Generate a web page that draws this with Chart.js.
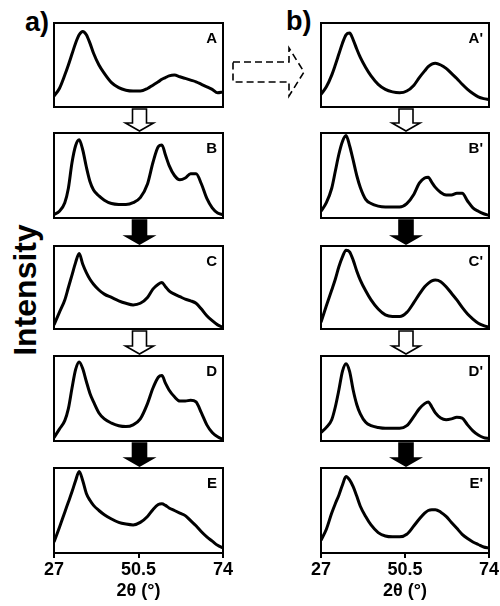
<!DOCTYPE html>
<html>
<head>
<meta charset="utf-8">
<script src="https://cdn.jsdelivr.net/npm/chart.js@4.4.1/dist/chart.umd.min.js"></script>
<style>
  body { margin: 0; background: #fff; }
  #wrap { position: relative; width: 500px; height: 606px; overflow: hidden; font-family: "Liberation Sans", Arial, sans-serif; }
  #wrap canvas { position: absolute; }
  .tag { position: absolute; font-weight: bold; font-size: 27px; line-height: 1; color: #000; }
  #ylab { position: absolute; left: 25px; top: 290px; font-weight: bold; font-size: 32px; line-height: 1;
          transform: translate(-50%, -50%) rotate(-90deg); white-space: nowrap; }
  svg { position: absolute; left: 0; top: 0; }
</style>
</head>
<body>
<div id="wrap">
  <div class="tag" style="left:25px;top:9px">a)</div>
  <div class="tag" style="left:286px;top:8px">b)</div>
  <div id="ylab">Intensity</div>
  <svg width="500" height="606" id="arrows"></svg>
</div>
<script>
// 2-theta sampling (deg)
const TWO_THETA = [27, 28.5, 30, 31, 32, 33, 34, 35, 36, 37, 38, 39.5, 41, 43, 45, 47, 49, 51, 53, 54.5, 56, 57, 58, 59, 60.5, 62, 63.5, 65, 66.5, 68, 69.5, 71, 72.5, 74];
const X_TICKS = [27, 50.5, 74];

// normalised intensities, column a)
const A = [0.13,0.22,0.38,0.50,0.63,0.76,0.86,0.90,0.86,0.76,0.64,0.50,0.40,0.29,0.23,0.20,0.19,0.19,0.22,0.26,0.30,0.33,0.35,0.37,0.38,0.36,0.34,0.32,0.30,0.27,0.24,0.21,0.17,0.18];
const B = [0.04,0.08,0.18,0.35,0.65,0.85,0.92,0.80,0.60,0.43,0.33,0.26,0.21,0.17,0.16,0.16,0.18,0.24,0.40,0.65,0.84,0.86,0.74,0.62,0.50,0.45,0.47,0.52,0.52,0.40,0.23,0.12,0.06,0.04];
const C = [0.05,0.20,0.35,0.50,0.65,0.80,0.91,0.78,0.68,0.60,0.54,0.47,0.42,0.38,0.34,0.31,0.29,0.31,0.38,0.48,0.54,0.56,0.51,0.46,0.42,0.39,0.36,0.34,0.31,0.24,0.16,0.10,0.05,0.02];
const D = [0.04,0.14,0.24,0.38,0.62,0.84,0.93,0.85,0.70,0.56,0.46,0.33,0.26,0.21,0.18,0.17,0.19,0.26,0.44,0.62,0.75,0.77,0.68,0.60,0.52,0.47,0.47,0.48,0.46,0.33,0.19,0.10,0.05,0.02];
const E = [0.13,0.30,0.48,0.60,0.72,0.85,0.96,0.85,0.70,0.62,0.56,0.50,0.45,0.40,0.36,0.34,0.33,0.36,0.43,0.51,0.57,0.58,0.56,0.53,0.50,0.47,0.44,0.38,0.32,0.25,0.19,0.14,0.09,0.06];

// column b)
const A2 = [0.15,0.24,0.38,0.50,0.63,0.76,0.86,0.88,0.80,0.69,0.59,0.47,0.37,0.27,0.21,0.18,0.17,0.19,0.26,0.35,0.43,0.48,0.51,0.52,0.50,0.46,0.40,0.34,0.27,0.21,0.16,0.12,0.10,0.09];
const B2 = [0.08,0.18,0.35,0.55,0.75,0.90,0.97,0.85,0.68,0.50,0.36,0.22,0.17,0.14,0.13,0.13,0.13,0.17,0.28,0.41,0.47,0.48,0.42,0.36,0.30,0.27,0.27,0.29,0.29,0.20,0.12,0.08,0.05,0.03];
const C2 = [0.08,0.28,0.47,0.60,0.75,0.87,0.95,0.93,0.83,0.70,0.59,0.46,0.35,0.24,0.17,0.15,0.15,0.20,0.32,0.42,0.51,0.55,0.58,0.59,0.57,0.51,0.43,0.35,0.26,0.18,0.12,0.07,0.04,0.02];
const D2 = [0.10,0.16,0.25,0.40,0.60,0.82,0.91,0.82,0.60,0.43,0.32,0.22,0.18,0.16,0.15,0.15,0.15,0.18,0.29,0.38,0.44,0.46,0.40,0.33,0.27,0.25,0.26,0.28,0.27,0.19,0.12,0.07,0.04,0.03];
const E2 = [0.15,0.28,0.47,0.58,0.68,0.80,0.90,0.86,0.78,0.67,0.55,0.43,0.33,0.24,0.20,0.19,0.19,0.22,0.32,0.40,0.47,0.50,0.51,0.51,0.48,0.43,0.36,0.29,0.22,0.17,0.13,0.10,0.07,0.06];

const LABELS_A = ['A', 'B', 'C', 'D', 'E'];
const LABELS_B = ["A'", "B'", "C'", "D'", "E'"];

const FONT = '"Liberation Sans", Arial, sans-serif';
const P = 16; // canvas padding round each frame
const cols = [{ x: 54, w: 169, series: [A, B, C, D, E], labels: LABELS_A },
              { x: 321, w: 168, series: [A2, B2, C2, D2, E2], labels: LABELS_B }];
const rows = [{ y: 23, h: 84 }, { y: 133, h: 85 }, { y: 246, h: 83 }, { y: 356, h: 85 }, { y: 468, h: 85 }];
const AXIS_H = 50;

// frame + panel letter
const framePlugin = {
  id: 'frame',
  afterDraw(chart, args, opts) {
    const { ctx, chartArea: a } = chart;
    ctx.save();
    ctx.strokeStyle = '#000';
    ctx.lineWidth = 2;
    ctx.strokeRect(a.left, a.top, a.right - a.left, a.bottom - a.top);
    ctx.fillStyle = '#000';
    ctx.font = 'bold 15px ' + FONT;
    ctx.textAlign = 'right';
    ctx.textBaseline = 'top';
    ctx.fillText(opts.text, a.right - 6, a.top + 8);
    ctx.restore();
  }
};

const wrap = document.getElementById('wrap');

cols.forEach(col => {
  rows.forEach((row, r) => {
    const last = r === rows.length - 1;
    const cv = document.createElement('canvas');
    cv.width = col.w + 2 * P;
    cv.height = row.h + P + (last ? AXIS_H : P);
    cv.style.left = (col.x - P) + 'px';
    cv.style.top = (row.y - P) + 'px';
    wrap.insertBefore(cv, document.getElementById('arrows'));
    const vals = col.series[r];
    new Chart(cv, {
      type: 'line',
      data: {
        datasets: [{
          data: TWO_THETA.map((t, i) => ({ x: t, y: vals[i] })),
          borderColor: '#000',
          borderWidth: 3,
          pointRadius: 0,
          cubicInterpolationMode: 'monotone',
          fill: false
        }]
      },
      options: {
        responsive: false,
        animation: false,
        layout: { padding: { left: P, right: P, top: P, bottom: last ? 0 : P } },
        plugins: { legend: { display: false }, tooltip: { enabled: false }, frame: { text: col.labels[r] } },
        scales: {
          x: {
            type: 'linear', min: 27, max: 74,
            display: last,
            afterBuildTicks: s => { s.ticks = X_TICKS.map(v => ({ value: v })); },
            afterFit: s => { if (last) s.height = AXIS_H; },
            grid: { drawOnChartArea: false, color: '#000', lineWidth: 2, tickLength: 5 },
            border: { color: '#000', width: 2 },
            ticks: { color: '#000', font: { family: FONT, size: 18, weight: 'bold' }, padding: 1,
                     maxRotation: 0, autoSkip: false, callback: v => String(v) },
            title: { display: true, text: '2θ (°)', color: '#000',
                     font: { family: FONT, size: 18, weight: 'bold' }, padding: { top: 0, bottom: 1 } }
          },
          y: { min: 0, max: 1, display: false }
        }
      },
      plugins: [framePlugin]
    });
  });
});

// process arrows between frames
const svg = document.getElementById('arrows');
const NS = 'http://www.w3.org/2000/svg';
function poly(pts, fill, dash) {
  const p = document.createElementNS(NS, 'polygon');
  p.setAttribute('points', pts.map(q => q.join(',')).join(' '));
  p.setAttribute('fill', fill);
  p.setAttribute('stroke', '#000');
  p.setAttribute('stroke-width', '1.6');
  if (dash) p.setAttribute('stroke-dasharray', dash);
  svg.appendChild(p);
}
function downArrow(cx, y0, y1, solid) {
  const hy = y1 - 8;
  poly([[cx - 7, y0], [cx + 7, y0], [cx + 7, hy], [cx + 14, hy], [cx, y1], [cx - 14, hy], [cx - 7, hy]],
       solid ? '#000' : '#fff');
}
cols.forEach(col => {
  const cx = col.x + col.w / 2 + 1;
  for (let r = 0; r < rows.length - 1; r++) {
    downArrow(cx, rows[r].y + rows[r].h + 2, rows[r + 1].y - 2, r % 2 === 1);
  }
});
poly([[233, 62], [289, 62], [289, 48], [304, 72], [289, 96], [289, 82], [233, 82]], '#fff', '7 4');
</script>
</body>
</html>
